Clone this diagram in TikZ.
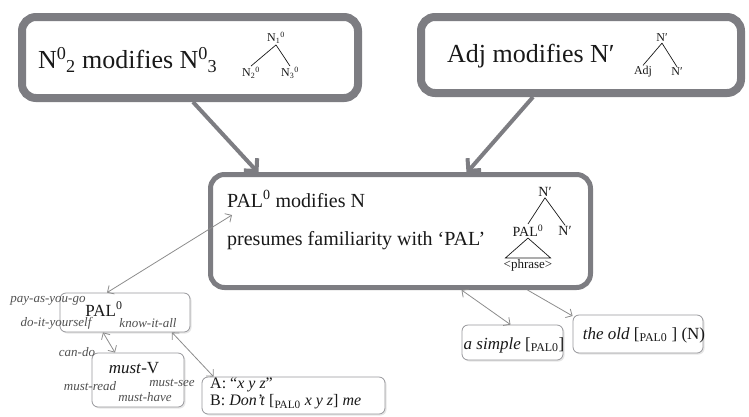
\documentclass[tikz,border=0pt]{standalone}
\usepackage{fontspec}
\setmainfont{Liberation Serif}
\usepackage{tikz}
\usetikzlibrary{arrows.meta, positioning, calc, shadows}

\definecolor{boxgray}{RGB}{125,125,130}
\definecolor{linegray}{RGB}{140,140,140}
\definecolor{ink}{RGB}{25,25,25}
\definecolor{labelgray}{RGB}{80,80,80}
\newcommand{\fs}[1]{\fontsize{#1}{#1}\selectfont}
\newcommand{\NOsub}[1]{N\textsuperscript{0}\kern-0.5pt\textsubscript{#1}}
\newcommand{\palsub}{\textsubscript{PAL0}}

\begin{document}
\begin{tikzpicture}[x=1pt, y=-1pt,
  bigbox/.style={draw=boxgray, line width=8pt, rounded corners=14pt, fill=white,
    drop shadow={opacity=0.25, shadow xshift=2pt, shadow yshift=-2pt}},
  midbox/.style={draw=boxgray, line width=5pt, rounded corners=14pt, fill=white,
    drop shadow={opacity=0.25, shadow xshift=2pt, shadow yshift=-2pt}},
  smallbox/.style={draw=boxgray!80, line width=0.8pt, rounded corners=6pt, fill=white,
    drop shadow={opacity=0.2, shadow xshift=1.5pt, shadow yshift=-1.5pt}},
  bigtext/.style={text=ink, font=\fs{26}, inner sep=0pt},
  midtext/.style={text=ink, font=\fs{20}, inner sep=0pt},
  boxtext/.style={text=ink, font=\fs{17}, inner sep=0pt},
  example/.style={text=labelgray, font=\fs{13}\itshape, inner sep=0pt},
  treelbl/.style={text=ink, font=\fs{12}, inner sep=1pt},
  tree/.style={ink, line width=0.7pt},
  bigarrow/.style={boxgray, line width=4pt, -{Straight Barb[length=9pt, width=18pt, line width=4pt]}},
  link/.style={linegray, line width=0.8pt, {Straight Barb[length=5pt, width=10pt]}-{Straight Barb[length=5pt, width=10pt]}},
  linkone/.style={linegray, line width=0.8pt, -{Straight Barb[length=5pt, width=10pt]}}]

  \useasboundingbox (0,0) rectangle (749,416);

  % Top boxes
  \node[bigbox, minimum width=336pt, minimum height=81pt] (cmpd) at (190,57.5) {};
  \node[bigbox, minimum width=320pt, minimum height=76pt] (adj) at (581,55) {};

  % Middle box
  \node[midbox, minimum width=380pt, minimum height=113pt] (pal) at (400.5,231) {};

  % Small boxes
  \node[smallbox, minimum width=130pt, minimum height=39pt] (palzero) at (125,312.5) {};
  \node[smallbox, minimum width=92pt, minimum height=54pt] (mustv) at (138,380) {};
  \node[smallbox, minimum width=183pt, minimum height=37pt] (dialog) at (293.5,395.5) {};
  \node[smallbox, minimum width=101pt, minimum height=35pt] (simple) at (512.5,342.5) {};
  \node[smallbox, minimum width=130pt, minimum height=38pt] (old) at (638,334) {};

  % Top left: compound
  \node[bigtext, anchor=west] (cmpdtxt) at (38,60) {\NOsub{2} modifies \NOsub{3}};
  \node[treelbl] (c1) at (276,38) {N\textsubscript{1}\textsuperscript{0}};
  \node[treelbl] (c2) at (251,73) {N\textsubscript{2}\textsuperscript{0}};
  \node[treelbl] (c3) at (290,73) {N\textsubscript{3}\textsuperscript{0}};
  \draw[tree] (c1.south) -- (c2.north);
  \draw[tree] (c1.south) -- (c3.north);

  % Top right: adjective
  \node[bigtext, anchor=west] (adjtxt) at (447,56) {Adj modifies N′};
  \node[treelbl] (a1) at (662,38) {N′};
  \node[treelbl] (a2) at (643,72) {Adj};
  \node[treelbl] (a3) at (677,72) {N′};
  \draw[tree] (a1.south) -- (a2.north);
  \draw[tree] (a1.south) -- (a3.north);

  % Middle: phrasal modifier
  \node[midtext, anchor=west] (paltxt) at (227,199) {PAL\textsuperscript{0} modifies N};
  \node[midtext, anchor=west] (famtxt) at (227,241) {presumes familiarity with ‘PAL’};
  \node[treelbl, font=\fs{14}] (p1) at (545,192) {N′};
  \node[treelbl, font=\fs{14}] (p2) at (528,231) {PAL\textsuperscript{0}};
  \node[treelbl, font=\fs{14}] (p3) at (565,231) {N′};
  \node[treelbl, font=\fs{13}] (phrase) at (528,265) {<phrase>};
  \draw[tree] (p1.south) -- (p2.north);
  \draw[tree] (p1.south) -- (p3.north);
  \draw[tree] (p2.south) -- ([xshift=3pt]phrase.north west) -- ([xshift=-3pt]phrase.north east) -- cycle;

  % PAL0 examples
  \node[boxtext] (palzerotxt) at (104,309) {PAL\textsuperscript{0}};
  \node[example] (payg) at (48,301) {pay-as-you-go};
  \node[example] (diy) at (56,323) {do-it-yourself};
  \node[example] (kia) at (148,323) {know-it-all};
  \node[example] (cando) at (77,352) {can-do};

  % must-V examples
  \node[boxtext] (mustvtxt) at (134,368) {\textit{must}-V};
  \node[example] (read) at (90,386) {must-read};
  \node[example] (see) at (172,383) {must-see};
  \node[example] (have) at (145,397) {must-have};

  % Dialogue
  \node[boxtext, font=\fs{16}, anchor=west] (linea) at (210,385) {A: “\textit{x y z}”};
  \node[boxtext, font=\fs{16}, anchor=west] (lineb) at (210,402) {B: \textit{Don’t} [\palsub{} \textit{x y z}] \textit{me}};

  % Noun phrases
  \node[boxtext] (simpletxt) at (514,345) {\textit{a simple} [\palsub]};
  \node[boxtext] (oldtxt) at (644,335) {\textit{the old} [\palsub{} ] (N)};

  % Arrows
  \draw[bigarrow] ($(cmpd.south)+(3,0)$) -- ($(pal.north)+(-142,1)$);
  \draw[bigarrow] ($(adj.south)+(-48,0)$) -- ($(pal.north)+(66,1)$);
  \draw[link] ($(palzero.north)+(-18,0)$) -- ($(pal.west)+(24,-16)$);
  \draw[link] ($(palzero.south)+(-22,0)$) -- ($(mustv.north)+(-23,0)$);
  \draw[link] ($(palzero.south)+(47,0)$) -- ($(dialog.north)+(-80,0)$);
  \draw[link] ($(pal.south)+(61,0)$) -- ($(simple.north)+(-2,0)$);
  \draw[linkone] ($(pal.south)+(127,0)$) -- ($(old.west)+(0,-18)$);
\end{tikzpicture}
\end{document}
